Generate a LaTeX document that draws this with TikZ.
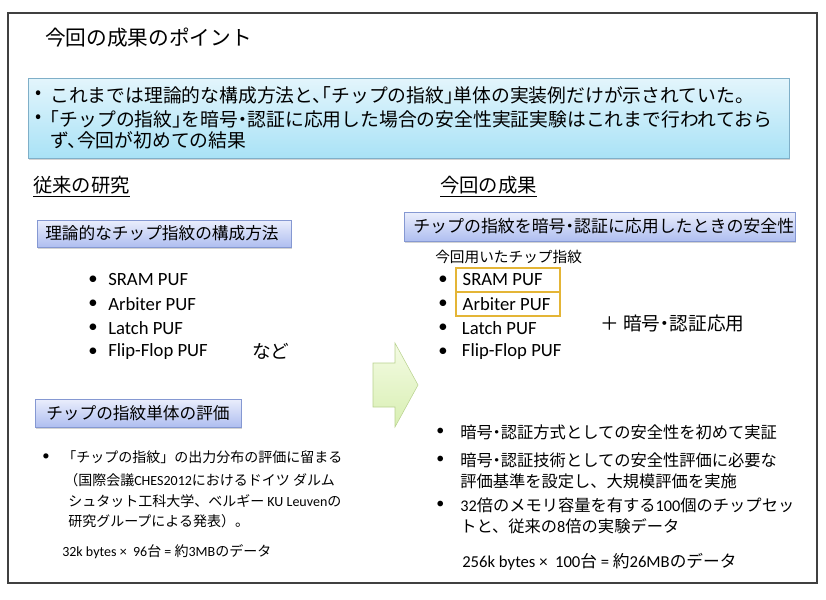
\documentclass[tikz,border=0pt]{standalone}
\usepackage{fontspec}
\setmainfont{Carlito}
\newfontfamily\jp{Noto Sans CJK JP}
\newfontfamily\jph{Noto Sans CJK JP}[RawFeature=+halt]
\usetikzlibrary{positioning,shadows,calc}
\newcommand\fsz[1]{\fontsize{#1}{#1}\selectfont}

\definecolor{summtop}{HTML}{E3F5FC}
\definecolor{summbot}{HTML}{A9E2F6}
\definecolor{summedge}{HTML}{7FAFC8}
\definecolor{topictop}{HTML}{EAEEFC}
\definecolor{topicbot}{HTML}{AFBEF0}
\definecolor{topicedge}{HTML}{8598D2}
\definecolor{arrtop}{HTML}{F4FBE4}
\definecolor{arrbot}{HTML}{D8EFB2}
\definecolor{arredge}{HTML}{B9D28F}
\definecolor{pufedge}{HTML}{E4B536}

\tikzset{
  jt/.style={anchor=west,inner sep=0pt,font=\jp\fsz{#1}},
  jh/.style={anchor=west,inner sep=0pt,font=\jph\fsz{#1}},
  lt/.style={anchor=west,inner sep=0pt,font=\fsz{#1}},
  summarybox/.style={draw=summedge,top color=summtop,bottom color=summbot,
    drop shadow={shadow xshift=1pt,shadow yshift=-1.5pt,opacity=.35}},
  topicbox/.style={draw=topicedge,top color=topictop,bottom color=topicbot,
    drop shadow={shadow xshift=1pt,shadow yshift=-1.5pt,opacity=.35}},
  usedpuf/.style={anchor=west,draw=pufedge,line width=1.6pt,inner xsep=5pt,
    minimum height=18pt,font=\fsz{14}},
  plainpuf/.style={anchor=west,inner xsep=5pt,minimum height=18pt,font=\fsz{14}}
}

\begin{document}
\begin{tikzpicture}[x=0.75pt,y=-0.75pt]
  \useasboundingbox (0,0) rectangle (826,600);
  \draw[black!75,line width=0.9pt] (8,13) rectangle (817,583);

  % title and summary
  \node[jt=15.5] (title) at (45,38) {今回の成果のポイント};
  \node[summarybox,minimum width=570.75pt,minimum height=60pt] (summary) at (408.5,118) {};
  \node[jt=13.5] (s1dot) at (35,95) {•};
  \node[jh=14.1] (s1) at (50,95) {これまでは理論的な構成方法と、「チップの指紋」単体の実装例だけが示されていた。};
  \node[jt=13.5] (s2dot) at (35,119) {•};
  \node[jh=14.1] (s2) at (50,119) {「チップの指紋」を暗号・認証に応用した場合の安全性実証実験はこれまで行われておら};
  \node[jh=14.1] (s3) at (50,140) {ず、今回が初めての結果};

  % former research
  \node[jt=14.5] (oldhead) at (33,187) {\underline{従来の研究}};
  \node[topicbox,minimum width=190.5pt,minimum height=20.25pt] (oldtopic) at (164,233.5) {};
  \node[jt=12.5] at (45,233.5) {理論的なチップ指紋の構成方法};
  \foreach \name [count=\i] in {SRAM PUF,Arbiter PUF,Latch PUF,Flip-Flop PUF} {
    \node[lt=14] (olddot\i) at (88,{256+24*\i}) {•};
    \node[lt=14] (oldpuf\i) at (108,{256+24*\i}) {\name};
  }
  \node[jt=14] (etc) at (252,351) {など};

  \node[topicbox,minimum width=154.5pt,minimum height=21pt] (evaltopic) at (138,413) {};
  \node[jt=12.5] at (46,413) {チップの指紋単体の評価};
  \node[lt=11] (e1dot) at (42,457) {•};
  \node[jt=10.5] (e1) at (62,457) {「チップの指紋」の出力分布の評価に留まる};
  \node[lt=10.5] (e2) at (64,480) {{\jp （国際会議}CHES2012{\jp におけるドイツ ダルム}};
  \node[lt=10.5] (e3) at (68,501) {{\jp シュタット工科大学、ベルギー }KU Leuven{\jp の}};
  \node[jt=10.5] (e4) at (68,521) {研究グループによる発表）。};
  \node[lt=10.5] (olddata) at (62,552) {32k bytes ×\ \ 96{\jp 台} = {\jp 約}3MB{\jp のデータ}};

  % arrow
  \draw[arredge,top color=arrtop,bottom color=arrbot] (373,363) -- (395,363) -- (395,343)
    -- (418,385) -- (395,427) -- (395,407) -- (373,407) -- cycle;

  % this work
  \node[jt=14.5] (newhead) at (440,187) {\underline{今回の成果}};
  \node[topicbox,minimum width=293.25pt,minimum height=21.75pt] (newtopic) at (599.5,226.5) {};
  \node[jh=12.7] at (413,226.5) {チップの指紋を暗号・認証に応用したときの安全性};
  \node[jt=11] (usedhead) at (435,257) {今回用いたチップ指紋};
  \foreach \name/\sty [count=\i] in {SRAM PUF/usedpuf,Arbiter PUF/usedpuf,Latch PUF/plainpuf,Flip-Flop PUF/plainpuf} {
    \node[lt=14] (newdot\i) at (438,{256+24*\i}) {•};
    \node[\sty] (newpuf\i) at (455,{256+24*\i}) {\makebox[68pt][l]{\name}};
  }
  \node[jh=14] (apply) at (600,323) {＋ 暗号・認証応用};

  \foreach \y [count=\i] in {432,460,505} {
    \node[lt=12] (rdot\i) at (436,\y) {•};
  }
  \node[jh=12.2] (r1) at (460,432) {暗号・認証方式としての安全性を初めて実証};
  \node[jh=12.2] (r2) at (460,460) {暗号・認証技術としての安全性評価に必要な};
  \node[jt=12.2] (r2b) at (460,481) {評価基準を設定し、大規模評価を実施};
  \node[lt=12.2] (r3) at (460,505) {32{\jp 倍のメモリ容量を有する}100{\jp 個のチップセッ}};
  \node[lt=12.2] (r3b) at (460,526) {{\jp トと、従来の}8{\jp 倍の実験データ}};
  \node[lt=12.5] (newdata) at (462,562) {256k bytes ×\ \ 100{\jp 台} = {\jp 約}26MB{\jp のデータ}};
\end{tikzpicture}
\end{document}
